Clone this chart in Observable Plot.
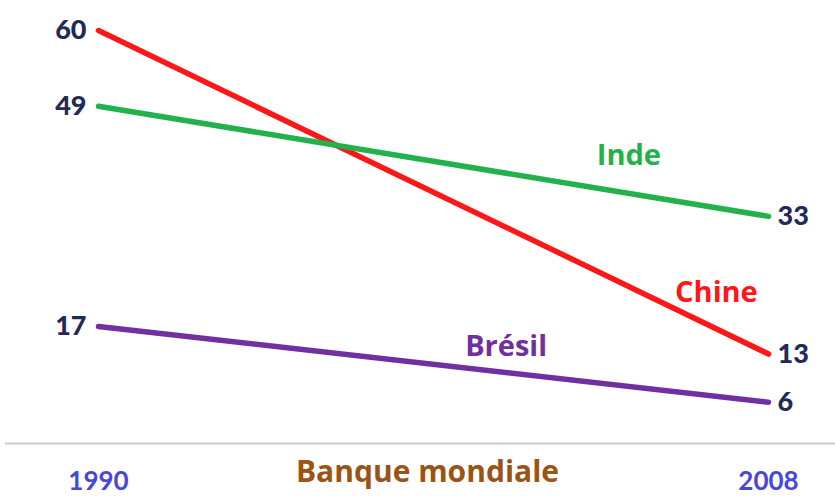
<!DOCTYPE html>
<html>
<head>
<meta charset="utf-8">
<script src="https://cdn.jsdelivr.net/npm/d3@7"></script>
<script src="https://cdn.jsdelivr.net/npm/@observablehq/plot@0.6"></script>
<style>
  html, body { margin: 0; padding: 0; background: #fff; }
  svg { display: block; }
</style>
</head>
<body>
<div id="chart"></div>
<script>
const years = [1990, 2008];
const countries = ["Chine", "Inde", "Brésil"];
const values1990 = [60, 49, 17];
const values2008 = [13, 33, 6];
const colors = ["#ff1616", "#22b14c", "#7030a0"];
// label anchor points in data units (year, value)
const labelYear = [2006.6, 2004.25, 2000.95];
const labelValue = [21.9, 41.8, 14.1];
const source = "Banque mondiale";

const data = [];
countries.forEach((c, i) => {
  data.push({country: c, year: years[0], value: values1990[i]});
  data.push({country: c, year: years[1], value: values2008[i]});
});
const labels = countries.map((c, i) => ({country: c, year: labelYear[i], value: labelValue[i]}));
const left = data.filter(d => d.year === years[0]);
const right = data.filter(d => d.year === years[1]);

const numFont = "Lato, 'Open Sans', sans-serif";
const wordFont = "'Open Sans', Lato, sans-serif";

const chart = Plot.plot({
  width: 835,
  height: 499,
  marginLeft: 5,
  marginRight: 0,
  marginTop: 0,
  marginBottom: 56,
  style: {fontFamily: numFont, background: "#fff"},
  x: {domain: years, range: [98, 768], type: "linear"},
  y: {domain: [0, 60], range: [443, 30], axis: null},
  color: {domain: countries, range: colors},
  marks: [
    Plot.ruleY([0], {stroke: "#c8c8c8", strokeWidth: 2}),
    Plot.line(data, {x: "year", y: "value", z: "country", stroke: "country", strokeWidth: 5.5, strokeLinecap: "round"}),
    Plot.text(left, {x: "year", y: "value", text: d => String(d.value), textAnchor: "end", dx: -12, fill: "#1f2a5c", fontSize: 27, fontWeight: 900}),
    Plot.text(right, {x: "year", y: "value", text: d => String(d.value), textAnchor: "start", dx: 9, fill: "#1f2a5c", fontSize: 27, fontWeight: 900}),
    Plot.text(labels, {x: "year", y: "value", text: "country", fill: "country", fontSize: 29, fontWeight: "bold", fontFamily: wordFont}),
    Plot.axisX({ticks: years, tickSize: 0, tickPadding: 28, tickFormat: d => String(d), fontSize: 26, fontWeight: "bold", color: "#4646e0", label: null}),
    Plot.text([source], {frameAnchor: "bottom", dx: 7, dy: 38, fill: "#9a5418", fontSize: 30, fontWeight: "bold", fontFamily: wordFont})
  ]
});
document.getElementById("chart").appendChild(chart);
</script>
</body>
</html>
